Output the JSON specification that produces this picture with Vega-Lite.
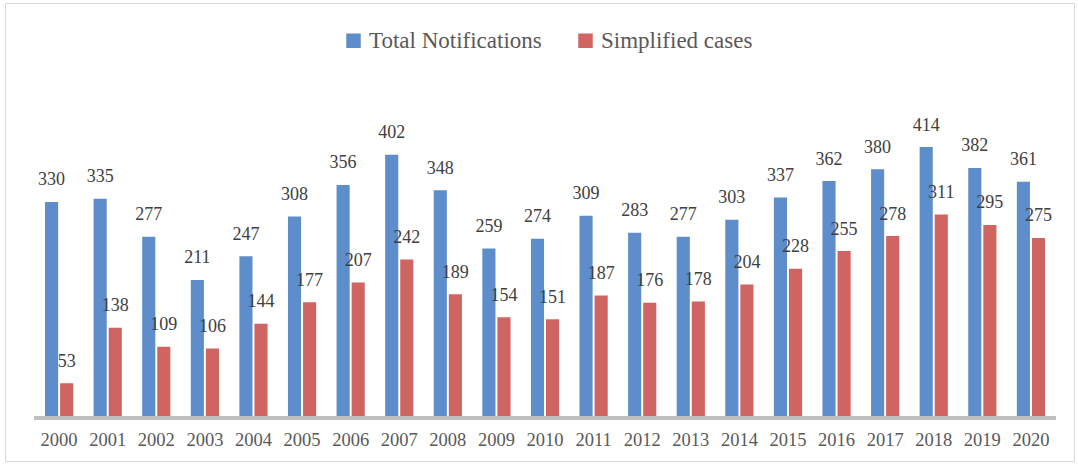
{
  "$schema": "https://vega.github.io/schema/vega-lite/v6.json",
  "width": 1069,
  "height": 458,
  "autosize": {"type": "none"},
  "padding": {"left": 5, "top": 3, "right": 4, "bottom": 5},
  "background": "white",
  "config": {
    "view": {"stroke": "#D9D9D9", "strokeWidth": 1},
    "font": "Liberation Serif"
  },
  "data": {
    "values": [
      {"year": "2000", "series": "Total Notifications", "value": 330},
      {"year": "2000", "series": "Simplified cases", "value": 53},
      {"year": "2001", "series": "Total Notifications", "value": 335},
      {"year": "2001", "series": "Simplified cases", "value": 138},
      {"year": "2002", "series": "Total Notifications", "value": 277},
      {"year": "2002", "series": "Simplified cases", "value": 109},
      {"year": "2003", "series": "Total Notifications", "value": 211},
      {"year": "2003", "series": "Simplified cases", "value": 106},
      {"year": "2004", "series": "Total Notifications", "value": 247},
      {"year": "2004", "series": "Simplified cases", "value": 144},
      {"year": "2005", "series": "Total Notifications", "value": 308},
      {"year": "2005", "series": "Simplified cases", "value": 177},
      {"year": "2006", "series": "Total Notifications", "value": 356},
      {"year": "2006", "series": "Simplified cases", "value": 207},
      {"year": "2007", "series": "Total Notifications", "value": 402},
      {"year": "2007", "series": "Simplified cases", "value": 242},
      {"year": "2008", "series": "Total Notifications", "value": 348},
      {"year": "2008", "series": "Simplified cases", "value": 189},
      {"year": "2009", "series": "Total Notifications", "value": 259},
      {"year": "2009", "series": "Simplified cases", "value": 154},
      {"year": "2010", "series": "Total Notifications", "value": 274},
      {"year": "2010", "series": "Simplified cases", "value": 151},
      {"year": "2011", "series": "Total Notifications", "value": 309},
      {"year": "2011", "series": "Simplified cases", "value": 187},
      {"year": "2012", "series": "Total Notifications", "value": 283},
      {"year": "2012", "series": "Simplified cases", "value": 176},
      {"year": "2013", "series": "Total Notifications", "value": 277},
      {"year": "2013", "series": "Simplified cases", "value": 178},
      {"year": "2014", "series": "Total Notifications", "value": 303},
      {"year": "2014", "series": "Simplified cases", "value": 204},
      {"year": "2015", "series": "Total Notifications", "value": 337},
      {"year": "2015", "series": "Simplified cases", "value": 228},
      {"year": "2016", "series": "Total Notifications", "value": 362},
      {"year": "2016", "series": "Simplified cases", "value": 255},
      {"year": "2017", "series": "Total Notifications", "value": 380},
      {"year": "2017", "series": "Simplified cases", "value": 278},
      {"year": "2018", "series": "Total Notifications", "value": 414},
      {"year": "2018", "series": "Simplified cases", "value": 311},
      {"year": "2019", "series": "Total Notifications", "value": 382},
      {"year": "2019", "series": "Simplified cases", "value": 295},
      {"year": "2020", "series": "Total Notifications", "value": 361},
      {"year": "2020", "series": "Simplified cases", "value": 275}
    ]
  },
  "encoding": {
    "x": {
      "field": "year",
      "type": "nominal",
      "scale": {"paddingInner": 0.42, "paddingOuter": 0.71, "align": 0.58},
      "axis": {
        "title": null,
        "domain": false,
        "ticks": false,
        "labelAngle": 0,
        "offset": -43,
        "labelPadding": 12,
        "labelFont": "Liberation Serif",
        "labelFontSize": 18.5,
        "labelColor": "#595959"
      }
    }
  },
  "layer": [
    {
      "mark": {"type": "bar"},
      "encoding": {
        "xOffset": {
          "field": "series",
          "type": "nominal",
          "sort": ["Total Notifications", "Simplified cases"],
          "scale": {"paddingInner": 0.13}
        },
        "y": {
          "field": "value",
          "type": "quantitative",
          "scale": {"domain": [-65.7, 634], "nice": false, "zero": false},
          "axis": null
        },
        "y2": {"datum": 0},
        "color": {
          "field": "series",
          "type": "nominal",
          "sort": ["Total Notifications", "Simplified cases"],
          "scale": {
            "domain": ["Total Notifications", "Simplified cases"],
            "range": ["#5E8DCB", "#D06462"]
          },
          "legend": {
            "title": null,
            "orient": "none",
            "legendX": 337,
            "legendY": 26,
            "direction": "horizontal",
            "symbolType": "square",
            "symbolSize": 210,
            "symbolStrokeWidth": 0,
            "labelFont": "Liberation Serif",
            "labelFontSize": 23,
            "labelColor": "#595959",
            "labelOffset": 4,
            "labelLimit": 400,
            "columnPadding": 32,
            "padding": 0
          }
        }
      }
    },
    {
      "mark": {
        "type": "text",
        "baseline": "middle",
        "align": "center",
        "dy": -21.5,
        "font": "Liberation Serif",
        "fontSize": 18,
        "color": "#404040"
      },
      "encoding": {
        "xOffset": {
          "field": "series",
          "type": "nominal",
          "sort": ["Total Notifications", "Simplified cases"],
          "scale": {"paddingInner": 0.13}
        },
        "y": {"field": "value", "type": "quantitative"},
        "text": {"field": "value", "type": "quantitative"}
      }
    },
    {
      "mark": {
        "type": "rule",
        "color": "#BFBFBF",
        "strokeWidth": 3,
        "xOffset": -24.5,
        "x2Offset": 25
      },
      "encoding": {
        "x": {"datum": "2000"},
        "x2": {"datum": "2020"},
        "y": {"datum": 0}
      }
    }
  ]
}
